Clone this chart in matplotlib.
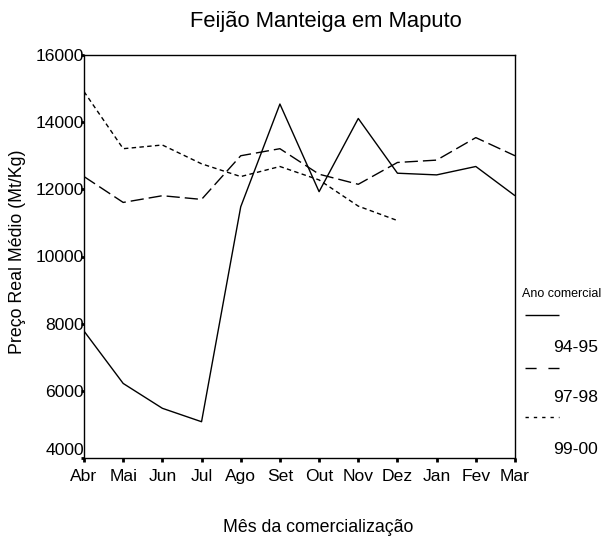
import numpy as np
import matplotlib
matplotlib.use('Agg')
import matplotlib.pyplot as plt
from matplotlib.lines import Line2D

plt.rcParams['font.family'] = ['Liberation Sans', 'DejaVu Sans']

meses = ['Abr', 'Mai', 'Jun', 'Jul', 'Ago', 'Set', 'Out', 'Nov', 'Dez', 'Jan', 'Fev', 'Mar']
preco_9495 = [7780, 6220, 5480, 5080, 11480, 14540, 11930, 14110, 12480, 12430, 12680, 11810]
preco_9798 = [12380, 11610, 11810, 11700, 13000, 13210, 12450, 12150, 12800, 12870, 13540, 13000]
preco_9900 = [14910, 13210, 13320, 12760, 12380, 12680, 12280, 11500, 11070]
anos = ['94-95', '97-98', '99-00']

# estilos das linhas no grafico e na legenda (SPSS desenha a legenda com tracos diferentes)
estilos = [(0, ()), (0, (9.5, 3.6)), (0, (3.2, 2.4))]
estilos_leg = [(0, ()), (0, (8, 8.5)), (0, (2.4, 3.6))]

fig = plt.figure(figsize=(6.03, 5.39), dpi=100)
ax = fig.add_axes([84/603, 1-458/539, 431/603, 403/539])

x = np.arange(len(meses))
series = [preco_9495, preco_9798, preco_9900]
for s, ls in zip(series, estilos):
    ax.plot(x[:len(s)], s, color='black', lw=1.0, linestyle=ls)

ax.set_xlim(0, len(meses)-1)
ax.set_ylim(4000, 16000)
ax.set_xticks(x)
ax.set_xticklabels(meses, fontsize=12.6)
ax.set_yticks(np.arange(4000, 16001, 2000))
ax.set_yticklabels([str(v) for v in range(4000, 16001, 2000)], fontsize=12.6)
ax.tick_params(axis='x', length=3, width=2, pad=5)
ax.tick_params(axis='y', length=2, width=2, pad=-2)
ax.get_yticklabels()[0].set_va('bottom')
for sp in ax.spines.values():
    sp.set_linewidth(1.0)

fig.text(326/603, 1-22/539, 'Feijão Manteiga em Maputo', fontsize=15.8, ha='center', va='center')
fig.text(318/603, 1-528/539, 'Mês da comercialização', fontsize=12.8, ha='center', va='center')
fig.text(18/603, 1-252/539, 'Preço Real Médio (Mt/Kg)', fontsize=12.8, ha='center', va='center', rotation=90)

# legenda manual
fig.text(522/603, 1-294/539, 'Ano comercial', fontsize=9, ha='left', va='center')
linhas_y = [315, 368, 417]
textos_y = [348, 398, 450]
for ano, ls, ly, ty in zip(anos, estilos_leg, linhas_y, textos_y):
    fig.add_artist(Line2D([525/603, 559/603], [1-ly/539, 1-ly/539], color='black', lw=1.0,
                          linestyle=ls, transform=fig.transFigure))
    fig.text(598/603, 1-ty/539, ano, fontsize=12.6, ha='right', va='center')

fig.savefig('out.png', dpi=100)
